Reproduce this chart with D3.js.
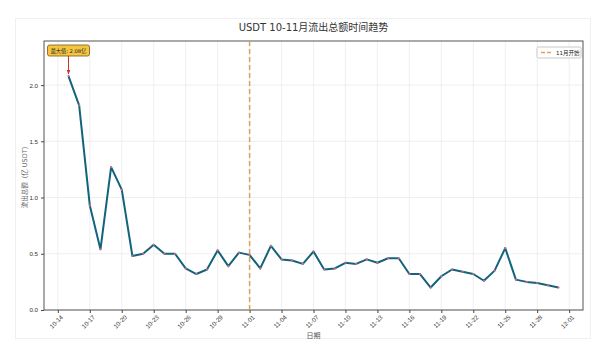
<!DOCTYPE html>
<html>
<head>
<meta charset="utf-8">
<script src="https://cdn.jsdelivr.net/npm/d3@7"></script>
<style>
  body { margin: 0; background: #fff; }
  svg { font-family: "DejaVu Sans", "Noto Sans CJK SC", sans-serif; }
</style>
</head>
<body>
<div id="chart"></div>
<script>
// daily outflow, 10-15 .. 11-30 (亿 USDT)
var dates = ["10-15","10-16","10-17","10-18","10-19","10-20","10-21","10-22","10-23","10-24",
             "10-25","10-26","10-27","10-28","10-29","10-30","10-31","11-01","11-02","11-03",
             "11-04","11-05","11-06","11-07","11-08","11-09","11-10","11-11","11-12","11-13",
             "11-14","11-15","11-16","11-17","11-18","11-19","11-20","11-21","11-22","11-23",
             "11-24","11-25","11-26","11-27","11-28","11-29","11-30"];
var outflow = [2.08, 1.82, 0.93, 0.54, 1.27, 1.07, 0.48, 0.50, 0.58, 0.50,
               0.50, 0.37, 0.32, 0.36, 0.53, 0.39, 0.51, 0.49, 0.37, 0.57,
               0.45, 0.44, 0.41, 0.52, 0.36, 0.37, 0.42, 0.41, 0.45, 0.42,
               0.46, 0.46, 0.32, 0.32, 0.20, 0.30, 0.36, 0.34, 0.32, 0.26,
               0.35, 0.55, 0.27, 0.25, 0.24, 0.22, 0.20];
var xTicks = ["10-14","10-17","10-20","10-23","10-26","10-29","11-01","11-04","11-07",
              "11-10","11-13","11-16","11-19","11-22","11-25","11-28","12-01"];
var yTicks = [0, 0.5, 1.0, 1.5, 2.0];
var novStart = "11-01";

var W = 600, H = 353;
var margin = {top: 41, right: 17, bottom: 43, left: 44};
var width = W - margin.left - margin.right,
    height = H - margin.top - margin.bottom;

var parse = function(s) {
    var p = s.split("-");
    return new Date(2024, +p[0] - 1, +p[1]);
};
var data = dates.map(function(d, i) { return {date: parse(d), v: outflow[i]}; });

var svg = d3.select("#chart").append("svg")
    .attr("width", W).attr("height", H);

// faint figure border
svg.append("rect")
    .attr("x", 15.5).attr("y", 18.5).attr("width", 575).attr("height", 320)
    .attr("fill", "none").attr("stroke", "#f0f0f0");

var g = svg.append("g").attr("transform", "translate(" + margin.left + "," + margin.top + ")");

// x padding like matplotlib (5%)
var t0 = data[0].date, t1 = data[data.length - 1].date;
var pad = (t1 - t0) * 0.05;
var x = d3.scaleTime()
    .domain([new Date(+t0 - pad), new Date(+t1 + pad)])
    .range([0, width]);

var maxV = d3.max(outflow);
var y = d3.scaleLinear()
    .domain([0, maxV * 1.15])
    .range([height, 0]);

// grid
g.append("g").selectAll("line").data(xTicks).enter().append("line")
    .attr("x1", function(d) { return x(parse(d)); })
    .attr("x2", function(d) { return x(parse(d)); })
    .attr("y1", 0).attr("y2", height)
    .attr("stroke", "#ebebeb").attr("stroke-width", 0.8);
g.append("g").selectAll("line").data(yTicks).enter().append("line")
    .attr("y1", function(d) { return y(d); })
    .attr("y2", function(d) { return y(d); })
    .attr("x1", 0).attr("x2", width)
    .attr("stroke", "#ebebeb").attr("stroke-width", 0.8);

// axes
var xAxis = g.append("g")
    .attr("transform", "translate(0," + height + ")")
    .call(d3.axisBottom(x)
        .tickValues(xTicks.map(parse))
        .tickFormat(d3.timeFormat("%m-%d"))
        .tickSize(3));
xAxis.select(".domain").remove();
xAxis.selectAll("line").attr("stroke", "#444");
xAxis.selectAll("text")
    .attr("font-size", 6.2).attr("fill", "#333")
    .attr("transform", "rotate(-45)")
    .attr("text-anchor", "end")
    .attr("dx", "-0.3em").attr("dy", "0.5em");

var yAxis = g.append("g")
    .call(d3.axisLeft(y).tickValues(yTicks).tickFormat(d3.format(".1f")).tickSize(3));
yAxis.select(".domain").remove();
yAxis.selectAll("line").attr("stroke", "#444");
yAxis.selectAll("text").attr("font-size", 6.2).attr("fill", "#333");

// frame
g.append("rect")
    .attr("width", width).attr("height", height)
    .attr("fill", "none").attr("stroke", "#555").attr("stroke-width", 1);

// November start line
g.append("line")
    .attr("x1", x(parse(novStart))).attr("x2", x(parse(novStart)))
    .attr("y1", 0).attr("y2", height)
    .attr("stroke", "#dba35a").attr("stroke-width", 1.5)
    .attr("stroke-dasharray", "5,3");

// line
var line = d3.line()
    .x(function(d) { return x(d.date); })
    .y(function(d) { return y(d.v); });
g.append("path")
    .datum(data)
    .attr("d", line)
    .attr("fill", "none")
    .attr("stroke", "#13637c")
    .attr("stroke-width", 2)
    .attr("stroke-linejoin", "round");

g.append("g").selectAll("circle").data(data).enter().append("circle")
    .attr("cx", function(d) { return x(d.date); })
    .attr("cy", function(d) { return y(d.v); })
    .attr("r", 1.1)
    .attr("fill", "#d06a8a");

// max annotation
var maxD = data[outflow.indexOf(maxV)];
var mx = x(maxD.date), my = y(maxD.v);
svg.append("defs").append("marker")
    .attr("id", "arr").attr("viewBox", "0 0 10 10")
    .attr("refX", 9).attr("refY", 5)
    .attr("markerWidth", 5).attr("markerHeight", 5)
    .attr("orient", "auto")
    .append("path").attr("d", "M0,1L10,5L0,9z").attr("fill", "#c0392b");
g.append("line")
    .attr("x1", mx).attr("x2", mx)
    .attr("y1", 15).attr("y2", my - 2)
    .attr("stroke", "#c0392b").attr("stroke-width", 1)
    .attr("marker-end", "url(#arr)");
var ann = g.append("g").attr("transform", "translate(" + (mx - 21) + ",4)");
ann.append("rect")
    .attr("width", 42).attr("height", 11).attr("rx", 2)
    .attr("fill", "#f5c542").attr("stroke", "#7a5a12").attr("stroke-width", 0.8);
ann.append("text")
    .attr("x", 21).attr("y", 7.6)
    .attr("text-anchor", "middle")
    .attr("font-size", 5.2).attr("fill", "#222")
    .text("最大值: " + maxV.toFixed(2) + "亿");

// legend
var lg = g.append("g").attr("transform", "translate(" + (width - 46) + ",6)");
lg.append("rect")
    .attr("width", 44).attr("height", 11).attr("rx", 1.5)
    .attr("fill", "#fff").attr("stroke", "#bbb").attr("stroke-width", 0.8);
lg.append("line")
    .attr("x1", 4).attr("x2", 15).attr("y1", 5.5).attr("y2", 5.5)
    .attr("stroke", "#dba35a").attr("stroke-width", 1.5)
    .attr("stroke-dasharray", "4,2");
lg.append("text")
    .attr("x", 19).attr("y", 7.6)
    .attr("font-size", 5.5).attr("fill", "#222")
    .text("11月开始");

// title and labels
svg.append("text")
    .attr("x", margin.left + width / 2).attr("y", 31)
    .attr("text-anchor", "middle")
    .attr("font-size", 10).attr("fill", "#333")
    .text("USDT 10-11月流出总额时间趋势");

svg.append("text")
    .attr("x", margin.left + width / 2).attr("y", 338)
    .attr("text-anchor", "middle")
    .attr("font-size", 7).attr("fill", "#555")
    .text("日期");

svg.append("text")
    .attr("transform", "translate(27," + (margin.top + height / 2) + ") rotate(-90)")
    .attr("text-anchor", "middle")
    .attr("font-size", 6.5).attr("fill", "#666")
    .text("流出总额（亿 USDT）");
</script>
</body>
</html>
